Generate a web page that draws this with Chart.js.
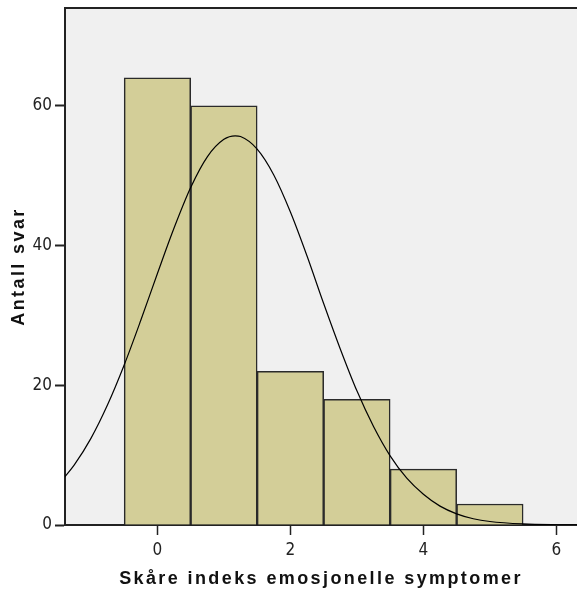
<!DOCTYPE html>
<html>
<head>
<meta charset="utf-8">
<script src="https://cdn.jsdelivr.net/npm/chart.js@4/dist/chart.umd.min.js"></script>
<style>
  html, body { margin: 0; padding: 0; background: #fff; overflow: hidden; }
</style>
</head>
<body>
<canvas id="histChart" width="577" height="596"></canvas>
<script>
// Histogram bins (midpoints) and counts
const binCenters = [0, 1, 2, 3, 4, 5];
const counts = [64, 60, 22, 18, 8, 3];

// Normal curve
const curveX = [-1.4, -1.25, -1, -0.75, -0.5, -0.25, 0, 0.25, 0.5, 0.75, 1, 1.17, 1.25, 1.5, 1.75, 2, 2.25, 2.5, 2.75, 3, 3.25, 3.5, 3.75, 4, 4.25, 4.5, 4.75, 5, 5.5, 6, 6.4];
const curveY = [6.8, 8.6, 12.4, 17.2, 22.9, 29.3, 36.0, 42.5, 48.3, 52.7, 55.2, 55.7, 55.6, 53.8, 50.1, 44.8, 38.5, 31.7, 25.2, 19.2, 14.1, 9.9, 6.7, 4.4, 2.7, 1.6, 0.9, 0.5, 0.15, 0.03, 0.0];

const xTicks = [0, 2, 4, 6];
const yTicks = [0, 20, 40, 60];

const tickFont = { family: "'Liberation Sans Narrow', 'DejaVu Sans Condensed', 'Liberation Sans', sans-serif", size: 17 };
const titleFont = { family: "'Liberation Sans', Arial, sans-serif", size: 18, weight: 'bold' };

// plot background, top border; wide letter spacing only for the axis titles
const plotFrame = {
    id: 'plotFrame',
    beforeDraw(chart) {
        const { ctx, chartArea: a } = chart;
        ctx.letterSpacing = '2.4px';
        ctx.save();
        ctx.fillStyle = '#f0f0f0';
        ctx.fillRect(a.left, a.top, a.right - a.left, a.bottom - a.top);
        ctx.restore();
    },
    beforeDatasetsDraw(chart) {
        chart.ctx.letterSpacing = '0px';
    },
    afterDraw(chart) {
        const { ctx, chartArea: a } = chart;
        ctx.save();
        ctx.strokeStyle = '#222';
        ctx.lineWidth = 2;
        ctx.beginPath();
        ctx.moveTo(a.left, a.top);
        ctx.lineTo(a.right, a.top);
        ctx.stroke();
        ctx.restore();
    }
};

new Chart(document.getElementById('histChart').getContext('2d'), {
    type: 'bar',
    data: {
        datasets: [{
            type: 'line',
            data: curveX.map((x, i) => ({ x: x, y: curveY[i] })),
            borderColor: '#000',
            borderWidth: 1.2,
            pointRadius: 0,
            tension: 0.4,
            cubicInterpolationMode: 'monotone',
            fill: false,
            order: 0
        }, {
            type: 'bar',
            data: binCenters.map((x, i) => ({ x: x, y: counts[i] })),
            backgroundColor: '#d3ce98',
            borderColor: '#2a2a2a',
            borderWidth: 1.5,
            barPercentage: 1,
            categoryPercentage: 1,
            order: 1
        }]
    },
    options: {
        responsive: false,
        animation: false,
        layout: { padding: { top: 8, right: 0, bottom: 0, left: 0 } },
        plugins: { legend: { display: false }, tooltip: { enabled: false } },
        scales: {
            x: {
                type: 'linear',
                min: -1.39,
                max: 6.31,
                offset: false,
                afterFit(scale) { scale.height = 71; scale.paddingLeft = 0; scale.paddingRight = 0; },
                afterBuildTicks(scale) { scale.ticks = xTicks.map(v => ({ value: v })); },
                grid: { offset: false, drawOnChartArea: false, drawTicks: true, tickLength: 10, tickColor: '#222', tickWidth: 1.5 },
                border: { color: '#222', width: 2 },
                ticks: { font: tickFont, color: '#222', padding: 5, maxRotation: 0, z: 1 },
                title: { display: true, text: 'Skåre indeks emosjonelle symptomer', font: titleFont, color: '#111', padding: { top: 0, bottom: 6 } }
            },
            y: {
                min: 0,
                max: 74,
                afterFit(scale) { scale.width = 65; scale.paddingTop = 0; scale.paddingBottom = 0; },
                afterBuildTicks(scale) { scale.ticks = yTicks.map(v => ({ value: v })); },
                grid: { drawOnChartArea: false, drawTicks: true, tickLength: 10, tickColor: '#222', tickWidth: 2 },
                border: { color: '#222', width: 2 },
                ticks: { font: tickFont, color: '#222', padding: 3, z: 1 },
                title: { display: true, text: 'Antall svar', font: titleFont, color: '#111', padding: { top: 8, bottom: 0 } }
            }
        }
    },
    plugins: [plotFrame]
});
</script>
</body>
</html>
